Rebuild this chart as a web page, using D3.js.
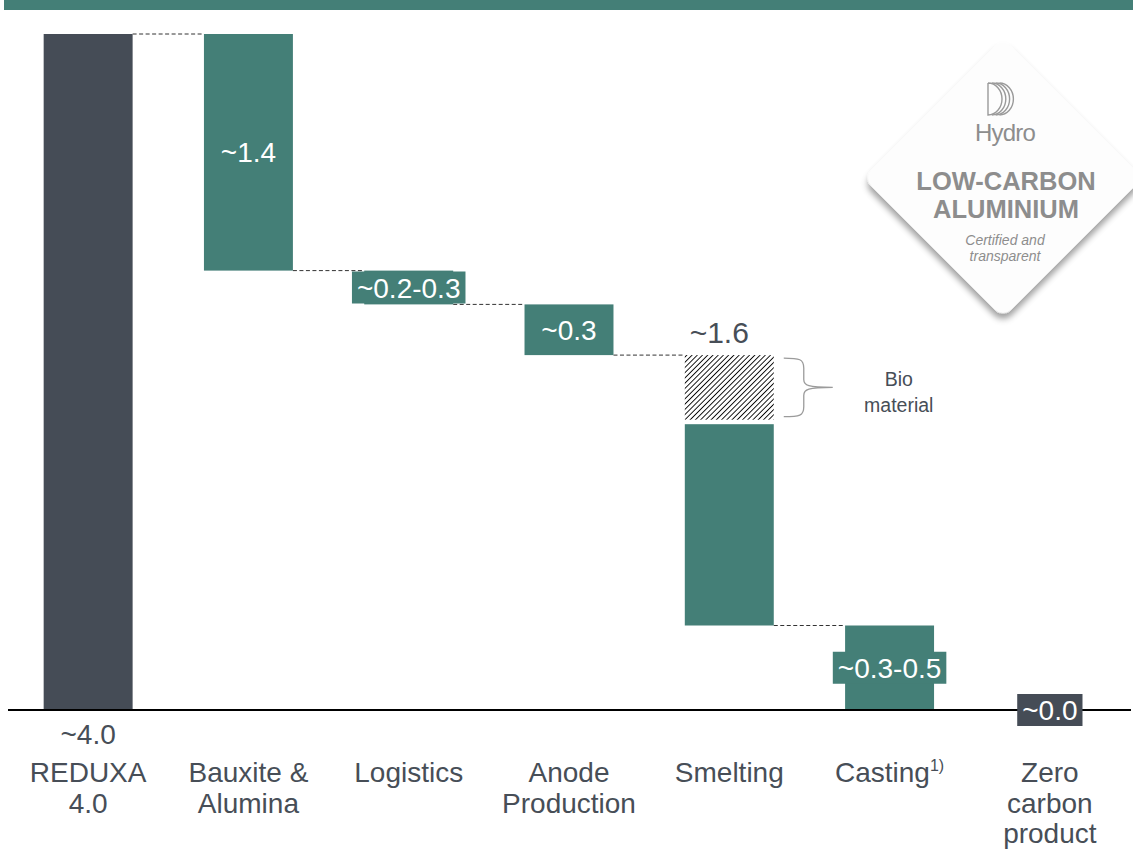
<!DOCTYPE html>
<html>
<head>
<meta charset="utf-8">
<script src="https://cdn.jsdelivr.net/npm/d3@7"></script>
<style>
  html, body { margin: 0; padding: 0; background: #ffffff; }
  svg { display: block; font-family: "Liberation Sans", Arial, Helvetica, sans-serif; }
</style>
</head>
<body>
<svg id="chart" width="1133" height="851"></svg>
<script>
// ---- Data -------------------------------------------------------------
const categories = ["REDUXA 4.0", "Bauxite & Alumina", "Logistics", "Anode Production", "Smelting", "Casting", "Zero carbon product"];
const categoryLines = [["REDUXA", "4.0"], ["Bauxite &", "Alumina"], ["Logistics"], ["Anode", "Production"], ["Smelting"], ["Casting"], ["Zero", "carbon", "product"]];
const categoryNotes = ["", "", "", "", "", "1)", ""];
const values = [4.0, 1.4, 0.2, 0.3, 1.6, 0.5, 0.0];
const barTypes = ["total", "decrease", "decrease", "decrease", "decrease", "decrease", "total"];
const valueLabels = ["~4.0", "~1.4", "~0.2-0.3", "~0.3", "~1.6", "~0.3-0.5", "~0.0"];
const bioMaterial = [0, 0, 0, 0, 0.4, 0, 0];
const bioLabel = ["Bio", "material"];
const badgeText = { brand: "Hydro", title: ["LOW-CARBON", "ALUMINIUM"], sub: ["Certified and", "transparent"] };

// ---- Style ------------------------------------------------------------
const TEAL = "#447f77";
const DARK = "#454c56";
const TEXT = "#474e57";
const BADGE_GREY = "#8d8d8d";

const svg = d3.select("#chart");
const W = 1133, H = 851;

// waterfall geometry: each bar spans [start, end]
let running = 0;
const bars = values.map((v, i) => {
  let start, end;
  if (barTypes[i] === "total") { start = 0; end = v; running = v; }
  else { end = running; start = running - v; running = start; }
  return { i, cat: categories[i], value: v, start, end, type: barTypes[i], bio: bioMaterial[i], label: valueLabels[i] };
});

const x = d3.scaleBand().domain(categories).range([8, 1130]).paddingInner(0.445).paddingOuter(0.2225);
const y = d3.scaleLinear().domain([0, 4]).range([710, 34]);
const bw = x.bandwidth();

// hatch pattern for the bio material share
const defs = svg.append("defs");
const HP = 3.7;
defs.append("pattern")
  .attr("id", "hatch").attr("patternUnits", "userSpaceOnUse")
  .attr("width", HP).attr("height", HP).attr("patternTransform", "rotate(45)")
  .call(p => {
    p.append("rect").attr("width", HP).attr("height", HP).attr("fill", "#fff");
    p.append("line").attr("x1", 0).attr("y1", 0).attr("x2", 0).attr("y2", HP)
      .attr("stroke", "#000").attr("stroke-width", 1.8);
  });
const shadow = defs.append("filter").attr("id", "badgeShadow")
  .attr("x", "-20%").attr("y", "-20%").attr("width", "150%").attr("height", "150%");
shadow.append("feDropShadow").attr("dx", 4).attr("dy", 4).attr("stdDeviation", 3)
  .attr("flood-color", "#000").attr("flood-opacity", 0.38);

// top band
svg.append("rect").attr("x", 4).attr("y", 0).attr("width", W - 4).attr("height", 10).attr("fill", TEAL);

// ---- Badge ------------------------------------------------------------
const badge = svg.append("g").attr("transform", "translate(1003,178)");
badge.append("rect")
  .attr("x", -99).attr("y", -99).attr("width", 198).attr("height", 198).attr("rx", 12)
  .attr("transform", "rotate(45)")
  .attr("fill", "#fdfdfd").attr("filter", "url(#badgeShadow)");
const logo = badge.append("g").attr("fill", "none").attr("stroke", "#9a9a9a").attr("stroke-width", 1.4);
d3.range(4).forEach(k => {
  const x0 = -15 + k * 3.8;
  logo.append("path").attr("d", `M${x0},-95 A14,16 0 0 1 ${x0},-63` + (k === 0 ? ` L${x0},-95` : ""));
});
badge.append("text").attr("x", 2).attr("y", -37).attr("text-anchor", "middle")
  .attr("font-size", 24).attr("fill", BADGE_GREY).attr("letter-spacing", -0.8).text(badgeText.brand);
badgeText.title.forEach((t, k) => badge.append("text")
  .attr("x", 3).attr("y", 12 + k * 28).attr("text-anchor", "middle")
  .attr("font-size", 25.5).attr("font-weight", "bold").attr("fill", BADGE_GREY).text(t));
badgeText.sub.forEach((t, k) => badge.append("text")
  .attr("x", 2).attr("y", 67 + k * 16).attr("text-anchor", "middle")
  .attr("font-size", 14).attr("font-style", "italic").attr("fill", BADGE_GREY).text(t));

// ---- Connectors -------------------------------------------------------
const connectors = bars.slice(0, -1)
  .map((b, k) => ({ from: b, to: bars[k + 1], level: bars[k + 1].type === "decrease" ? bars[k + 1].end : 0 }))
  .filter(c => c.level > 0);
svg.append("g").selectAll("line").data(connectors).join("line")
  .attr("x1", c => x(c.from.cat) + bw).attr("x2", c => x(c.to.cat))
  .attr("y1", c => y(c.level)).attr("y2", c => y(c.level))
  .attr("stroke", "#333").attr("stroke-width", 1).attr("stroke-dasharray", "4,2.5");

// ---- Bars -------------------------------------------------------------
const gBars = svg.append("g");
gBars.selectAll("rect.solid").data(bars.filter(b => b.value > 0)).join("rect")
  .attr("class", "solid")
  .attr("x", b => x(b.cat)).attr("width", bw)
  .attr("y", b => y(b.end - b.bio) + (b.bio > 0 ? 1.5 : 0))
  .attr("height", b => y(b.start) - y(b.end - b.bio) - (b.bio > 0 ? 1.5 : 0))
  .attr("fill", b => b.type === "total" ? DARK : TEAL);
gBars.selectAll("rect.bio").data(bars.filter(b => b.bio > 0)).join("rect")
  .attr("class", "bio")
  .attr("x", b => x(b.cat)).attr("width", bw)
  .attr("y", b => y(b.end)).attr("height", b => y(b.end - b.bio) - y(b.end) - 3)
  .attr("fill", "url(#hatch)");

// bio material brace and note
bars.filter(b => b.bio > 0).forEach(b => {
  const x0 = x(b.cat) + bw + 10, top = y(b.end) + 3, bot = y(b.end - b.bio) - 6, mid = (top + bot) / 2;
  const xm = x0 + 20, tip = x0 + 49;
  svg.append("path")
    .attr("d", `M${x0},${top} C${xm - 4},${top} ${xm},${top + 1} ${xm},${top + 10} L${xm},${mid - 8}` +
               ` C${xm},${mid - 2} ${xm + 4},${mid} ${tip},${mid}` +
               ` M${tip},${mid} C${xm + 4},${mid} ${xm},${mid + 2} ${xm},${mid + 8} L${xm},${bot - 10}` +
               ` C${xm},${bot - 1} ${xm - 4},${bot} ${x0},${bot}`)
    .attr("fill", "none").attr("stroke", "#9b9b9b").attr("stroke-width", 1.3);
  bioLabel.forEach((t, k) => svg.append("text")
    .attr("x", tip + 66).attr("y", mid + k * 26 - 1).attr("text-anchor", "middle")
    .attr("font-size", 19.5).attr("fill", TEXT).text(t));
});

// baseline
svg.append("line").attr("x1", 8).attr("x2", 1131).attr("y1", y(0)).attr("y2", y(0))
  .attr("stroke", "#000").attr("stroke-width", 2);

// ---- Value labels -----------------------------------------------------
const gLab = svg.append("g").attr("font-size", 28);
bars.forEach((b, k) => {
  const cx = x(b.cat) + bw / 2;
  if (b.type === "total" && k === 0) {
    gLab.append("text").attr("x", cx).attr("y", y(0) + 34).attr("text-anchor", "middle")
      .attr("fill", TEXT).text(b.label);
    return;
  }
  if (b.bio > 0) {
    gLab.append("text").attr("x", cx - 10).attr("y", y(b.end) - 12).attr("text-anchor", "middle")
      .attr("font-size", 30).attr("fill", TEXT).text(b.label);
    return;
  }
  const cy = b.value > 0 ? (y(b.start) + y(b.end)) / 2 : y(0);
  const t = gLab.append("text").attr("x", cx).attr("y", cy + 10).attr("text-anchor", "middle")
    .attr("fill", "#fff").text(b.label);
  const tw = t.node().getComputedTextLength();
  const barH = y(b.start) - y(b.end);
  if (tw + 10 > bw || barH < 34) {
    gLab.insert("rect", () => t.node())
      .attr("x", cx - tw / 2 - 5).attr("width", tw + 10)
      .attr("y", cy - 16).attr("height", 32)
      .attr("fill", b.type === "total" ? DARK : TEAL);
  }
});

// ---- Category labels --------------------------------------------------
const gCat = svg.append("g").attr("font-size", 28).attr("fill", TEXT).attr("text-anchor", "middle");
categories.forEach((c, k) => {
  const cx = x(c) + bw / 2;
  categoryLines[k].forEach((line, j) => {
    const t = gCat.append("text").attr("x", cx).attr("y", 782 + j * 30.5);
    t.append("tspan").text(line);
    if (categoryNotes[k] && j === categoryLines[k].length - 1) {
      t.append("tspan").attr("font-size", 16).attr("dy", -11).text(categoryNotes[k]);
    }
  });
});
</script>
</body>
</html>
